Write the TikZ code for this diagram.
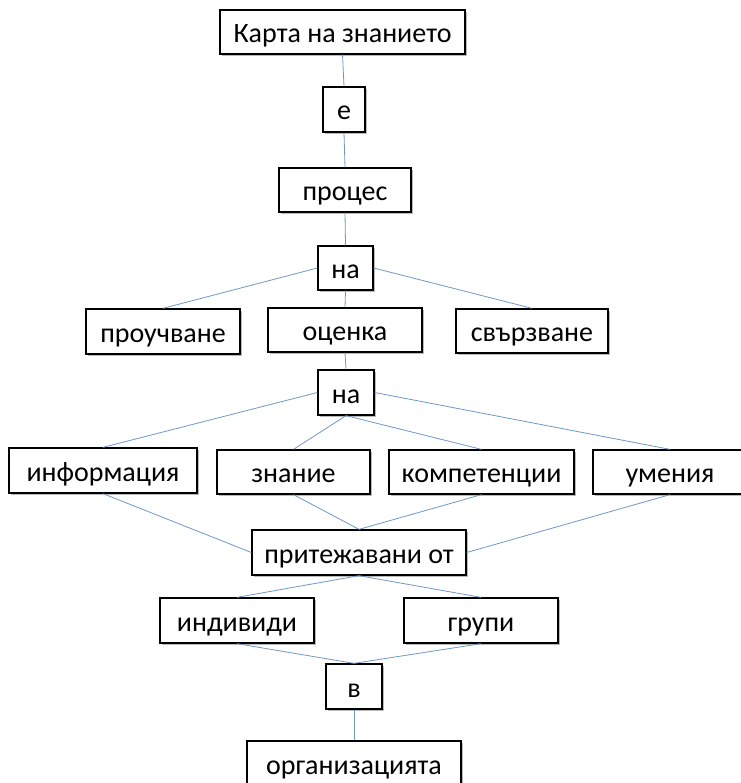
\documentclass[tikz,border=0pt]{standalone}
\usepackage{fontspec}
\setmainfont{Carlito}
\usetikzlibrary{shadows}
\definecolor{conn}{RGB}{110,152,200}
\tikzset{
  box/.style={draw=black, line width=1.3pt, fill=white, inner sep=0pt,
    text height=21pt, text depth=0pt,
    font=\fontsize{28}{32}\selectfont,
    drop shadow={shadow xshift=1.8pt, shadow yshift=-1.8pt, fill=black!60, opacity=0.45}},
  link/.style={draw=conn, line width=0.8pt}
}
\newcommand{\bx}[6]{\node[box, minimum width=#4pt, minimum height=#5pt] (#1) at (#2,#3) {#6};}
\begin{document}
\begin{tikzpicture}[x=1pt,y=-1pt]
\useasboundingbox (0,0) rectangle (740,783);
\bx{karta}{342.5}{32}{245}{44}{Карта на знанието}
\bx{e}{344}{109.5}{42}{45}{е}
\bx{proc}{345}{190}{132}{44}{процес}
\bx{naA}{345.5}{268}{55}{44}{на}
\bx{prouch}{163}{331.5}{154}{45}{проучване}
\bx{ocenka}{345}{330}{154}{44}{оценка}
\bx{svarz}{532}{331}{152}{44}{свързване}
\bx{naB}{346}{392.5}{56}{45}{на}
\bx{info}{103}{470.5}{188}{45}{информация}
\bx{znanie}{293.5}{472}{153}{44}{знание}
\bx{komp}{481.5}{472}{185}{44}{компетенции}
\bx{umenia}{670}{472}{154}{44}{умения}
\bx{prit}{359}{552.5}{214}{45}{притежавани от}
\bx{indiv}{237}{620.5}{154}{45}{индивиди}
\bx{grupi}{481}{620.5}{154}{45}{групи}
\bx{v}{354}{686.5}{56}{45}{в}
\bx{org}{354}{763.5}{214}{45}{организацията}
\draw[link] (karta.south) -- (e.north);
\draw[link] (e.south) -- (proc.north);
\draw[link] (proc.south) -- (naA.north);
\draw[link] (naA.west) -- (prouch.north);
\draw[link] (naA.south) -- (ocenka.north);
\draw[link] (naA.east) -- (svarz.north);
\draw[link] (ocenka.south) -- (naB.north);
\draw[link] (naB.west) -- (info.north);
\draw[link] (naB.south) -- (znanie.north);
\draw[link] (naB.south) -- (komp.north);
\draw[link] (naB.east) -- (umenia.north);
\draw[link] (info.south) -- (prit.west);
\draw[link] (znanie.south) -- (prit.north);
\draw[link] (komp.south) -- (prit.north);
\draw[link] (umenia.south) -- (prit.east);
\draw[link] (prit.south) -- (indiv.north);
\draw[link] (prit.south) -- (grupi.north);
\draw[link] (indiv.south) -- (v.north);
\draw[link] (grupi.south) -- (v.north);
\draw[link] (v.south) -- (org.north);
\end{tikzpicture}
\end{document}
